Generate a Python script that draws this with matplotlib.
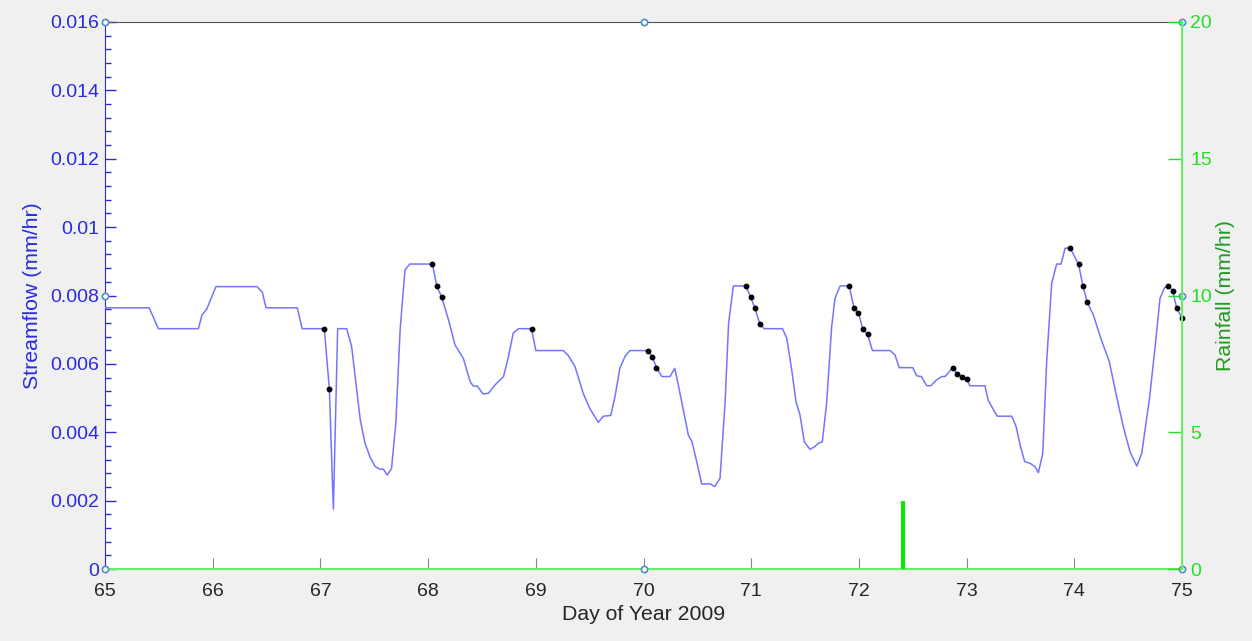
import numpy as np
import matplotlib.pyplot as plt
from matplotlib.ticker import MultipleLocator

plt.rcParams['font.family'] = ['Liberation Sans', 'DejaVu Sans']

# streamflow record, day of year 2009 vs mm/hr
day = [65.0, 65.41, 65.495, 65.867, 65.9, 65.944, 66.03, 66.41, 66.46, 66.495,
       66.785, 66.83, 67.036, 67.083, 67.12, 67.16, 67.244, 67.29, 67.37, 67.414,
       67.46, 67.507, 67.553, 67.584, 67.62, 67.66, 67.70, 67.74, 67.785, 67.83,
       68.04, 68.08, 68.126, 68.19, 68.25, 68.327, 68.39, 68.42, 68.457, 68.51,
       68.56, 68.62, 68.70, 68.745, 68.79, 68.84, 68.96, 69.0, 69.255, 69.30,
       69.364, 69.44, 69.50, 69.58, 69.627, 69.695, 69.735, 69.78, 69.83, 69.875,
       70.04, 70.08, 70.12, 70.17, 70.246, 70.29, 70.32, 70.37, 70.416, 70.45,
       70.49, 70.54, 70.62, 70.66, 70.71, 70.757, 70.79, 70.834, 70.95, 70.995,
       71.035, 71.08, 71.12, 71.29, 71.33, 71.376, 71.416, 71.453, 71.493, 71.546,
       71.59, 71.623, 71.66, 71.70, 71.747, 71.778, 71.825, 71.91, 71.955, 71.995,
       72.035, 72.08, 72.125, 72.29, 72.335, 72.375, 72.5, 72.537, 72.58, 72.63,
       72.667, 72.72, 72.77, 72.8, 72.87, 72.914, 72.957, 73.0, 73.03, 73.17,
       73.2, 73.25, 73.285, 73.42, 73.46, 73.50, 73.54, 73.59, 73.635, 73.666,
       73.707, 73.744, 73.79, 73.836, 73.877, 73.914, 73.96, 74.04, 74.08, 74.12,
       74.177, 74.24, 74.325, 74.393, 74.455, 74.517, 74.58, 74.626, 74.70, 74.75,
       74.796, 74.84, 74.873, 74.913, 74.95, 75.0]
flow = [0.00764, 0.00764, 0.00703, 0.00703, 0.00743, 0.0076, 0.00826, 0.00826, 0.0081, 0.00764,
        0.00764, 0.00703, 0.00703, 0.00526, 0.00175, 0.00703, 0.00703, 0.0065, 0.00436, 0.00368,
        0.00328, 0.003, 0.00292, 0.00292, 0.00275, 0.00294, 0.00426, 0.007, 0.00875, 0.00892,
        0.00892, 0.00828, 0.00795, 0.00728, 0.00655, 0.00616, 0.00548, 0.00535, 0.00535, 0.00512,
        0.00514, 0.00538, 0.00563, 0.0062, 0.0069, 0.00703, 0.00703, 0.00639, 0.00639, 0.00625,
        0.00592, 0.00514, 0.0047, 0.00429, 0.00447, 0.00449, 0.00504, 0.00587, 0.00623, 0.00639,
        0.00639, 0.00621, 0.00589, 0.00563, 0.00563, 0.00587, 0.00543, 0.00465, 0.00392, 0.00372,
        0.00319, 0.00249, 0.00249, 0.00241, 0.00265, 0.00485, 0.00719, 0.00828, 0.00828, 0.00795,
        0.00762, 0.00717, 0.00703, 0.00703, 0.00675, 0.00582, 0.00489, 0.0045, 0.00372, 0.0035,
        0.00358, 0.00368, 0.00372, 0.00485, 0.00709, 0.00792, 0.00828, 0.00828, 0.00762, 0.0075,
        0.00703, 0.00686, 0.00639, 0.00639, 0.00626, 0.00589, 0.00589, 0.00565, 0.00563, 0.00536,
        0.00536, 0.00553, 0.00563, 0.00563, 0.00589, 0.0057, 0.00563, 0.00556, 0.00536, 0.00536,
        0.00494, 0.00465, 0.00447, 0.00447, 0.00416, 0.00358, 0.00314, 0.00309, 0.00299, 0.00282,
        0.00338, 0.00611, 0.00836, 0.00892, 0.00892, 0.00938, 0.0094, 0.00891, 0.00828, 0.0078,
        0.00743, 0.0068, 0.00606, 0.00504, 0.00416, 0.00343, 0.00301, 0.00338, 0.00504, 0.0065,
        0.00792, 0.00824, 0.00828, 0.00814, 0.00764, 0.00733]

# recession points picked out of the record
rec_day = [67.036, 67.083, 68.04, 68.08, 68.126, 68.96, 70.04, 70.08, 70.12,
           70.95, 70.995, 71.035, 71.08, 71.91, 71.955, 71.995, 72.035, 72.08,
           72.87, 72.914, 72.957, 73.0, 73.96, 74.04, 74.08, 74.12,
           74.873, 74.913, 74.95, 75.0]
rec_flow = [0.00703, 0.00526, 0.00892, 0.00828, 0.00795, 0.00703, 0.00639, 0.00621, 0.00589,
            0.00828, 0.00795, 0.00762, 0.00717, 0.00828, 0.00762, 0.0075, 0.00703, 0.00686,
            0.00589, 0.0057, 0.00563, 0.00556, 0.0094, 0.00891, 0.00828, 0.0078,
            0.00828, 0.00814, 0.00764, 0.00733]

# rainfall
rain_day = [72.41]
rain = [2.5]

xticks = np.arange(65, 76, 1)
qticks = [0, 0.002, 0.004, 0.006, 0.008, 0.01, 0.012, 0.014, 0.016]
qticklabels = ['0', '0.002', '0.004', '0.006', '0.008', '0.01', '0.012', '0.014', '0.016']
rticks = [0, 5, 10, 15, 20]

blue = '#2a2ae0'
green = '#22e022'
grey = '#262626'

fig = plt.figure(figsize=(12.52, 6.41), dpi=100, facecolor='#f0f0f0')
ax = fig.add_axes([0.0839, 0.1123, 0.8602, 0.8534])
ax.set_facecolor('white')

ax.plot(day, flow, color='#7474ff', lw=1.1, zorder=3)
ax.plot(rec_day, rec_flow, 'o', color='black', ms=3.2, zorder=4, clip_on=False)

ax.set_xlim(65, 75)
ax.set_ylim(0, 0.016)
ax.set_xticks(xticks)
ax.set_xticklabels([str(d) for d in xticks])
ax.set_yticks(qticks)
ax.set_yticklabels(qticklabels)
ax.yaxis.set_minor_locator(MultipleLocator(0.0004))

ax.tick_params(axis='y', which='both', direction='in', colors=blue, labelsize=14,
               right=True, labelright=False, pad=4.5)
ax.tick_params(axis='y', which='major', length=8, width=1)
ax.tick_params(axis='y', which='minor', length=4, width=1)
ax.tick_params(axis='x', which='major', direction='in', colors='#888888', length=8,
               labelcolor=grey, labelsize=14, top=False, pad=10)

ax.spines['left'].set_color(blue)
ax.spines['bottom'].set_color('#66ee66')
ax.spines['bottom'].set_linewidth(1.5)
ax.spines['top'].set_color('#555555')
ax.spines['right'].set_visible(False)

ax.set_xlabel('Day of Year 2009', fontsize=15.3, color=grey)
ax.xaxis.set_label_coords(0.5, -0.066)
ax.set_ylabel('Streamflow (mm/hr)', fontsize=15.3, color=blue)
ax.yaxis.set_label_coords(-0.059, 0.5)

# rainfall on the right hand axis
ax2 = ax.twinx()
ax2.bar(rain_day, rain, width=0.035, color='#00ee00', zorder=3)
ax2.set_ylim(0, 20)
ax2.set_yticks(rticks)
ax2.tick_params(axis='y', direction='in', colors=green, length=10, width=1, labelsize=14, pad=6)
ax2.spines['right'].set_color('#66ee66')
ax2.spines['right'].set_linewidth(1.5)
for s in ['left', 'top', 'bottom']:
    ax2.spines[s].set_visible(False)
ax2.set_ylabel('Rainfall (mm/hr)', fontsize=15.3, color='#1f9a1f')
ax2.yaxis.set_label_coords(1.032, 0.5)

# small marker circles on the frame
mx = [65, 65, 65, 70, 70, 75, 75, 75]
my = [0, 0.008, 0.016, 0, 0.016, 0, 0.008, 0.016]
ax.plot(mx, my, 'o', ms=4.5, mfc='white', mec='#4f8fbf', mew=1.2, ls='none',
        clip_on=False, zorder=6)

fig.savefig('out.png', dpi=100, facecolor=fig.get_facecolor())
